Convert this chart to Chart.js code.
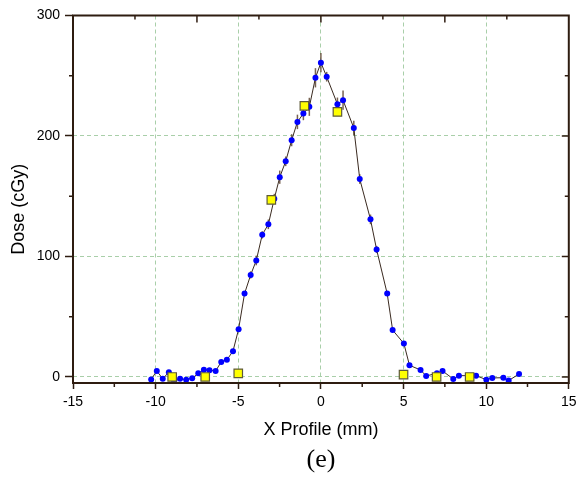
<!DOCTYPE html>
<html>
<head>
<meta charset="utf-8">
<script src="https://cdn.jsdelivr.net/npm/chart.js@4/dist/chart.umd.min.js"></script>
<style>
  html, body { margin: 0; padding: 0; background: #ffffff; }
  #wrap { width: 576px; height: 481px; }
</style>
</head>
<body>
<div id="wrap"><canvas id="c" width="576" height="481"></canvas></div>
<script>
// Measured profile (blue dots)
const profileX = [-10.27, -9.93, -9.57, -9.2, -8.88, -8.52, -8.15, -7.79, -7.42, -7.08, -6.74, -6.37, -6.03, -5.69, -5.32, -4.98,
  -4.62, -4.25, -3.91, -3.55, -3.18, -2.82, -2.49, -2.13, -1.77, -1.42, -1.06, -0.7, -0.33, 0, 0.35, 1.0, 1.34, 1.99, 2.35,
  3.0, 3.37, 4.01, 4.34, 5.02, 5.36, 6.03, 6.37, 7.02, 7.36, 8.01, 8.35, 9.39, 10.01, 10.37, 11.04, 11.36, 11.99];
const profileDose = [-2, 5, -1.5, 4, -3.5, -1.5, -2.2, -1.1, 3, 6, 5.6, 5, 12.5, 14.2, 21.4, 39.7,
  69.2, 84.7, 96.7, 118, 126.7, 148, 165.8, 179, 196.5, 211.7, 218.6, 224.2, 248.3, 260.8, 249.2, 226.4, 229.7, 206.7, 164.3,
  130.8, 105.8, 69.2, 38.9, 27.8, 9.7, 5.8, 0.8, 3.1, 5, -1.7, 1.1, 1.1, -2.2, -0.8, -0.6, -3, 2.5];
const profileErr = [0, 0, 0, 0, 0, 0, 0, 0, 0, 0, 0, 0, 0, 0, 0, 1,
  2, 3, 4, 3, 4, 4, 5.5, 4, 5, 6, 5.5, 7.5, 8, 8, 4, 5.5, 8, 6, 4,
  4, 3, 2, 1, 0, 0, 0, 0, 0, 0, 0, 0, 0, 0, 0, 0, 0, 0];
// Reference points (yellow squares)
const refX = [-9, -7, -5, -3, -1, 1, 5, 7, 9];
const refDose = [0, 0, 3, 147, 225, 220, 2, 0, 0];
// Axes
const xTicks = [-15, -10, -5, 0, 5, 10, 15];
const xMinorTicks = [-12.5, -7.5, -2.5, 2.5, 7.5, 12.5];
const yTicks = [0, 100, 200, 300];
const yMinorTicks = [50, 150, 250];
const topMajorTicks = [-7.5, 0, 7.5];
const topMinorTicks = [-11.25, -3.75, 3.75, 11.25];
const rightMajorTicks = [0, 100, 200];
const rightMinorTicks = [50, 150, 250];
const yTitle = 'Dose (cGy)';

const AXIS = '#2e1c10';
const GRID = '#a9cfa9';
const FONT = "'Liberation Sans', Arial, sans-serif";

const frameTicks = {
  id: 'frameTicks',
  beforeDatasetsDraw(chart) {
    const ctx = chart.ctx, xs = chart.scales.x, ys = chart.scales.y;
    ctx.save();
    ctx.strokeStyle = 'rgba(95,70,50,0.85)';
    ctx.lineWidth = 1.5;
    profileX.forEach((x, i) => {
      const e = profileErr[i];
      if (!e) return;
      const px = xs.getPixelForValue(x);
      ctx.beginPath();
      ctx.moveTo(px, ys.getPixelForValue(profileDose[i] - e));
      ctx.lineTo(px, ys.getPixelForValue(profileDose[i] + e));
      ctx.stroke();
    });
    ctx.restore();
  },
  afterDraw(chart) {
    const ctx = chart.ctx, a = chart.chartArea, xs = chart.scales.x, ys = chart.scales.y;
    ctx.save();
    ctx.strokeStyle = AXIS;
    ctx.lineWidth = 1.5;
    const seg = (x1, y1, x2, y2) => { ctx.beginPath(); ctx.moveTo(x1, y1); ctx.lineTo(x2, y2); ctx.stroke(); };
    xMinorTicks.forEach(v => { const p = xs.getPixelForValue(v); seg(p, a.bottom, p, a.bottom + 4); });
    yMinorTicks.forEach(v => { const p = ys.getPixelForValue(v); seg(a.left, p, a.left - 4, p); });
    topMajorTicks.forEach(v => { const p = xs.getPixelForValue(v); seg(p, a.top, p, a.top + 7); });
    topMinorTicks.forEach(v => { const p = xs.getPixelForValue(v); seg(p, a.top, p, a.top + 4); });
    rightMajorTicks.forEach(v => { const p = ys.getPixelForValue(v); seg(a.right, p, a.right - 7, p); });
    rightMinorTicks.forEach(v => { const p = ys.getPixelForValue(v); seg(a.right, p, a.right - 4, p); });
    ctx.lineWidth = 2;
    ctx.strokeRect(a.left, a.top, a.right - a.left, a.bottom - a.top);
    // y-axis title
    ctx.translate(19, (a.top + a.bottom) / 2 + 10);
    ctx.rotate(-Math.PI / 2);
    ctx.fillStyle = '#000';
    ctx.font = '18px ' + FONT;
    ctx.textAlign = 'center';
    ctx.textBaseline = 'middle';
    ctx.fillText(yTitle, 0, 0);
    ctx.restore();
  }
};

new Chart(document.getElementById('c'), {
  type: 'scatter',
  data: {
    datasets: [
      {
        label: 'Reference',
        data: refX.map((x, i) => ({ x: x, y: refDose[i] })),
        pointStyle: 'rect',
        pointRadius: 6,
        pointBackgroundColor: '#ffff00',
        pointBorderColor: '#5e5a3a',
        pointBorderWidth: 1.2,
        showLine: false,
        order: 0
      },
      {
        label: 'Profile',
        data: profileX.map((x, i) => ({ x: x, y: profileDose[i] })),
        showLine: true,
        borderColor: '#3a2a20',
        borderWidth: 1,
        pointRadius: 3,
        pointBackgroundColor: '#0000ff',
        pointBorderColor: '#0000ff',
        pointBorderWidth: 0,
        order: 1
      }
    ]
  },
  options: {
    responsive: false,
    animation: false,
    layout: { padding: { left: 0, right: 7, top: 15.5, bottom: 4.8 } },
    plugins: {
      legend: { display: false },
      tooltip: { enabled: false },
      title: {
        display: true,
        position: 'bottom',
        fullSize: false,
        text: '(e)',
        color: '#000',
        font: { family: "'Liberation Serif', 'Times New Roman', serif", size: 26, weight: 'normal', lineHeight: 1.2 },
        padding: { top: 0, bottom: 0 }
      }
    },
    scales: {
      x: {
        type: 'linear',
        min: -15, max: 15,
        afterBuildTicks: s => { s.ticks = xTicks.map(v => ({ value: v })); },
        afterFit: s => { s.height = 62; s.paddingLeft = 0; s.paddingRight = 0; },
        border: { display: false, dash: [4, 3] },
        grid: {
          color: GRID, lineWidth: 1,
          tickColor: AXIS, tickLength: 6, tickWidth: 1.5
        },
        ticks: { color: '#000', padding: 5, font: { family: FONT, size: 14 }, maxRotation: 0 },
        title: {
          display: true, text: 'X Profile (mm)', color: '#000',
          font: { family: FONT, size: 18, lineHeight: 1.2 },
          padding: { top: 0, bottom: 4 }
        }
      },
      y: {
        type: 'linear',
        min: -5, max: 300,
        afterBuildTicks: s => { s.ticks = yTicks.map(v => ({ value: v })); },
        afterFit: s => { s.width = 73; s.paddingTop = 0; s.paddingBottom = 0; },
        border: { display: false, dash: [4, 3] },
        grid: {
          color: GRID, lineWidth: 1,
          tickColor: AXIS, tickLength: 8, tickWidth: 1.5
        },
        ticks: { color: '#000', padding: 5, font: { family: FONT, size: 14 } },
        title: { display: false }
      }
    }
  },
  plugins: [frameTicks]
});
</script>
</body>
</html>
